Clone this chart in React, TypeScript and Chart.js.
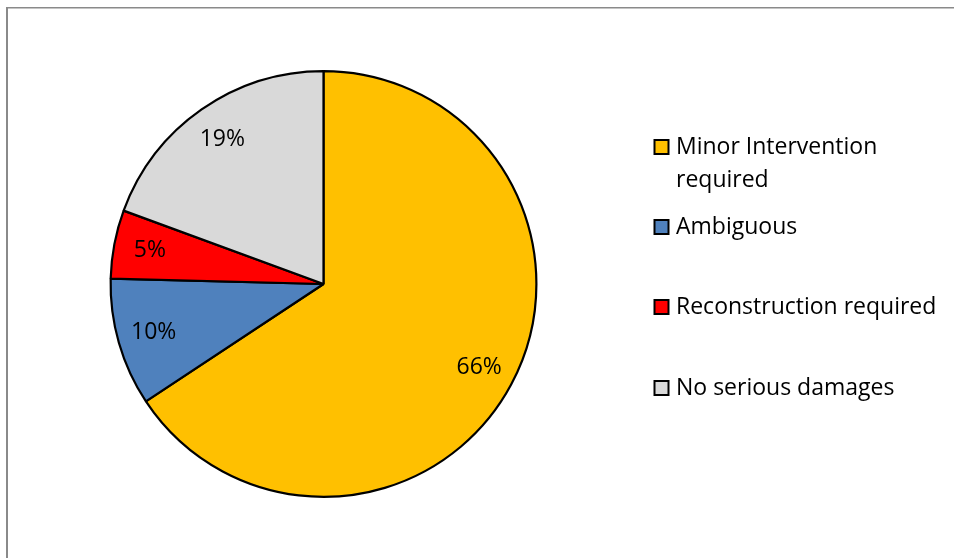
import React, { useEffect, useRef } from "react";
import { Chart, registerables } from "chart.js";

Chart.register(...registerables);

const categories = ["Minor Intervention required", "Ambiguous", "Reconstruction required", "No serious damages"];
const legendLines = [["Minor Intervention", "required"], ["Ambiguous"], ["Reconstruction required"], ["No serious damages"]];
const values = [65.7, 9.7, 5.2, 19.4];
const colors = ["#FFC000", "#4F81BD", "#FF0000", "#D9D9D9"];
const legendRowY = [147, 227, 307, 388];

const FONT = "'Open Sans', 'Noto Sans', sans-serif";
const FONT_SIZE = 23;

const overlay = {
  id: "overlay",
  beforeDraw(chart: any) {
    const ctx = chart.ctx;
    ctx.save();
    ctx.fillStyle = "#ffffff";
    ctx.fillRect(0, 0, chart.width, chart.height);
    ctx.fillStyle = "#8a8a8a";
    ctx.fillRect(6, 7, 2, chart.height);
    ctx.fillRect(6, 7, chart.width, 1.5);
    ctx.restore();
  },
  afterDraw(chart: any) {
    const ctx = chart.ctx;
    const meta = chart.getDatasetMeta(0);
    const data = chart.data.datasets[0].data as number[];
    const total = data.reduce((a, b) => a + b, 0);
    ctx.save();
    ctx.font = `${FONT_SIZE}px ${FONT}`;
    ctx.fillStyle = "#000";
    ctx.textAlign = "center";
    ctx.textBaseline = "middle";
    meta.data.forEach((arc: any, i: number) => {
      const { x, y, startAngle, endAngle, outerRadius } = arc.getProps(["x", "y", "startAngle", "endAngle", "outerRadius"], true);
      const mid = (startAngle + endAngle) / 2;
      const r = outerRadius * 0.83;
      const pct = Math.round((data[i] / total) * 100);
      ctx.fillText(pct + "%", x + Math.cos(mid) * r, y + Math.sin(mid) * r);
    });
    // legend
    ctx.textAlign = "left";
    legendLines.forEach((lines, i) => {
      const cy = legendRowY[i];
      ctx.fillStyle = colors[i];
      ctx.fillRect(654.5, cy - 7, 14, 14);
      ctx.strokeStyle = "#000";
      ctx.lineWidth = 2;
      ctx.strokeRect(654.5, cy - 7, 14, 14);
      ctx.fillStyle = "#000";
      lines.forEach((t, j) => {
        ctx.fillText(t, 676, cy + j * 33);
      });
    });
    ctx.restore();
  },
};

export default function App() {
  const ref = useRef<HTMLCanvasElement>(null);
  useEffect(() => {
    if (!ref.current) return;
    const chart = new Chart(ref.current, {
      type: "pie",
      data: {
        labels: categories,
        datasets: [
          {
            data: values,
            backgroundColor: colors,
            borderColor: "#000",
            borderWidth: 2.2,
          },
        ],
      },
      options: {
        responsive: false,
        animation: false,
        layout: { padding: { left: 109, right: 416, top: 70, bottom: 60 } },
        plugins: { legend: { display: false }, tooltip: { enabled: false } },
      },
      plugins: [overlay],
    });
    return () => chart.destroy();
  }, []);
  return (
    <div style={{ position: "fixed", left: 0, top: 0, width: 954, height: 558 }}>
      <canvas ref={ref} width={954} height={558} style={{ display: "block" }} />
    </div>
  );
}
